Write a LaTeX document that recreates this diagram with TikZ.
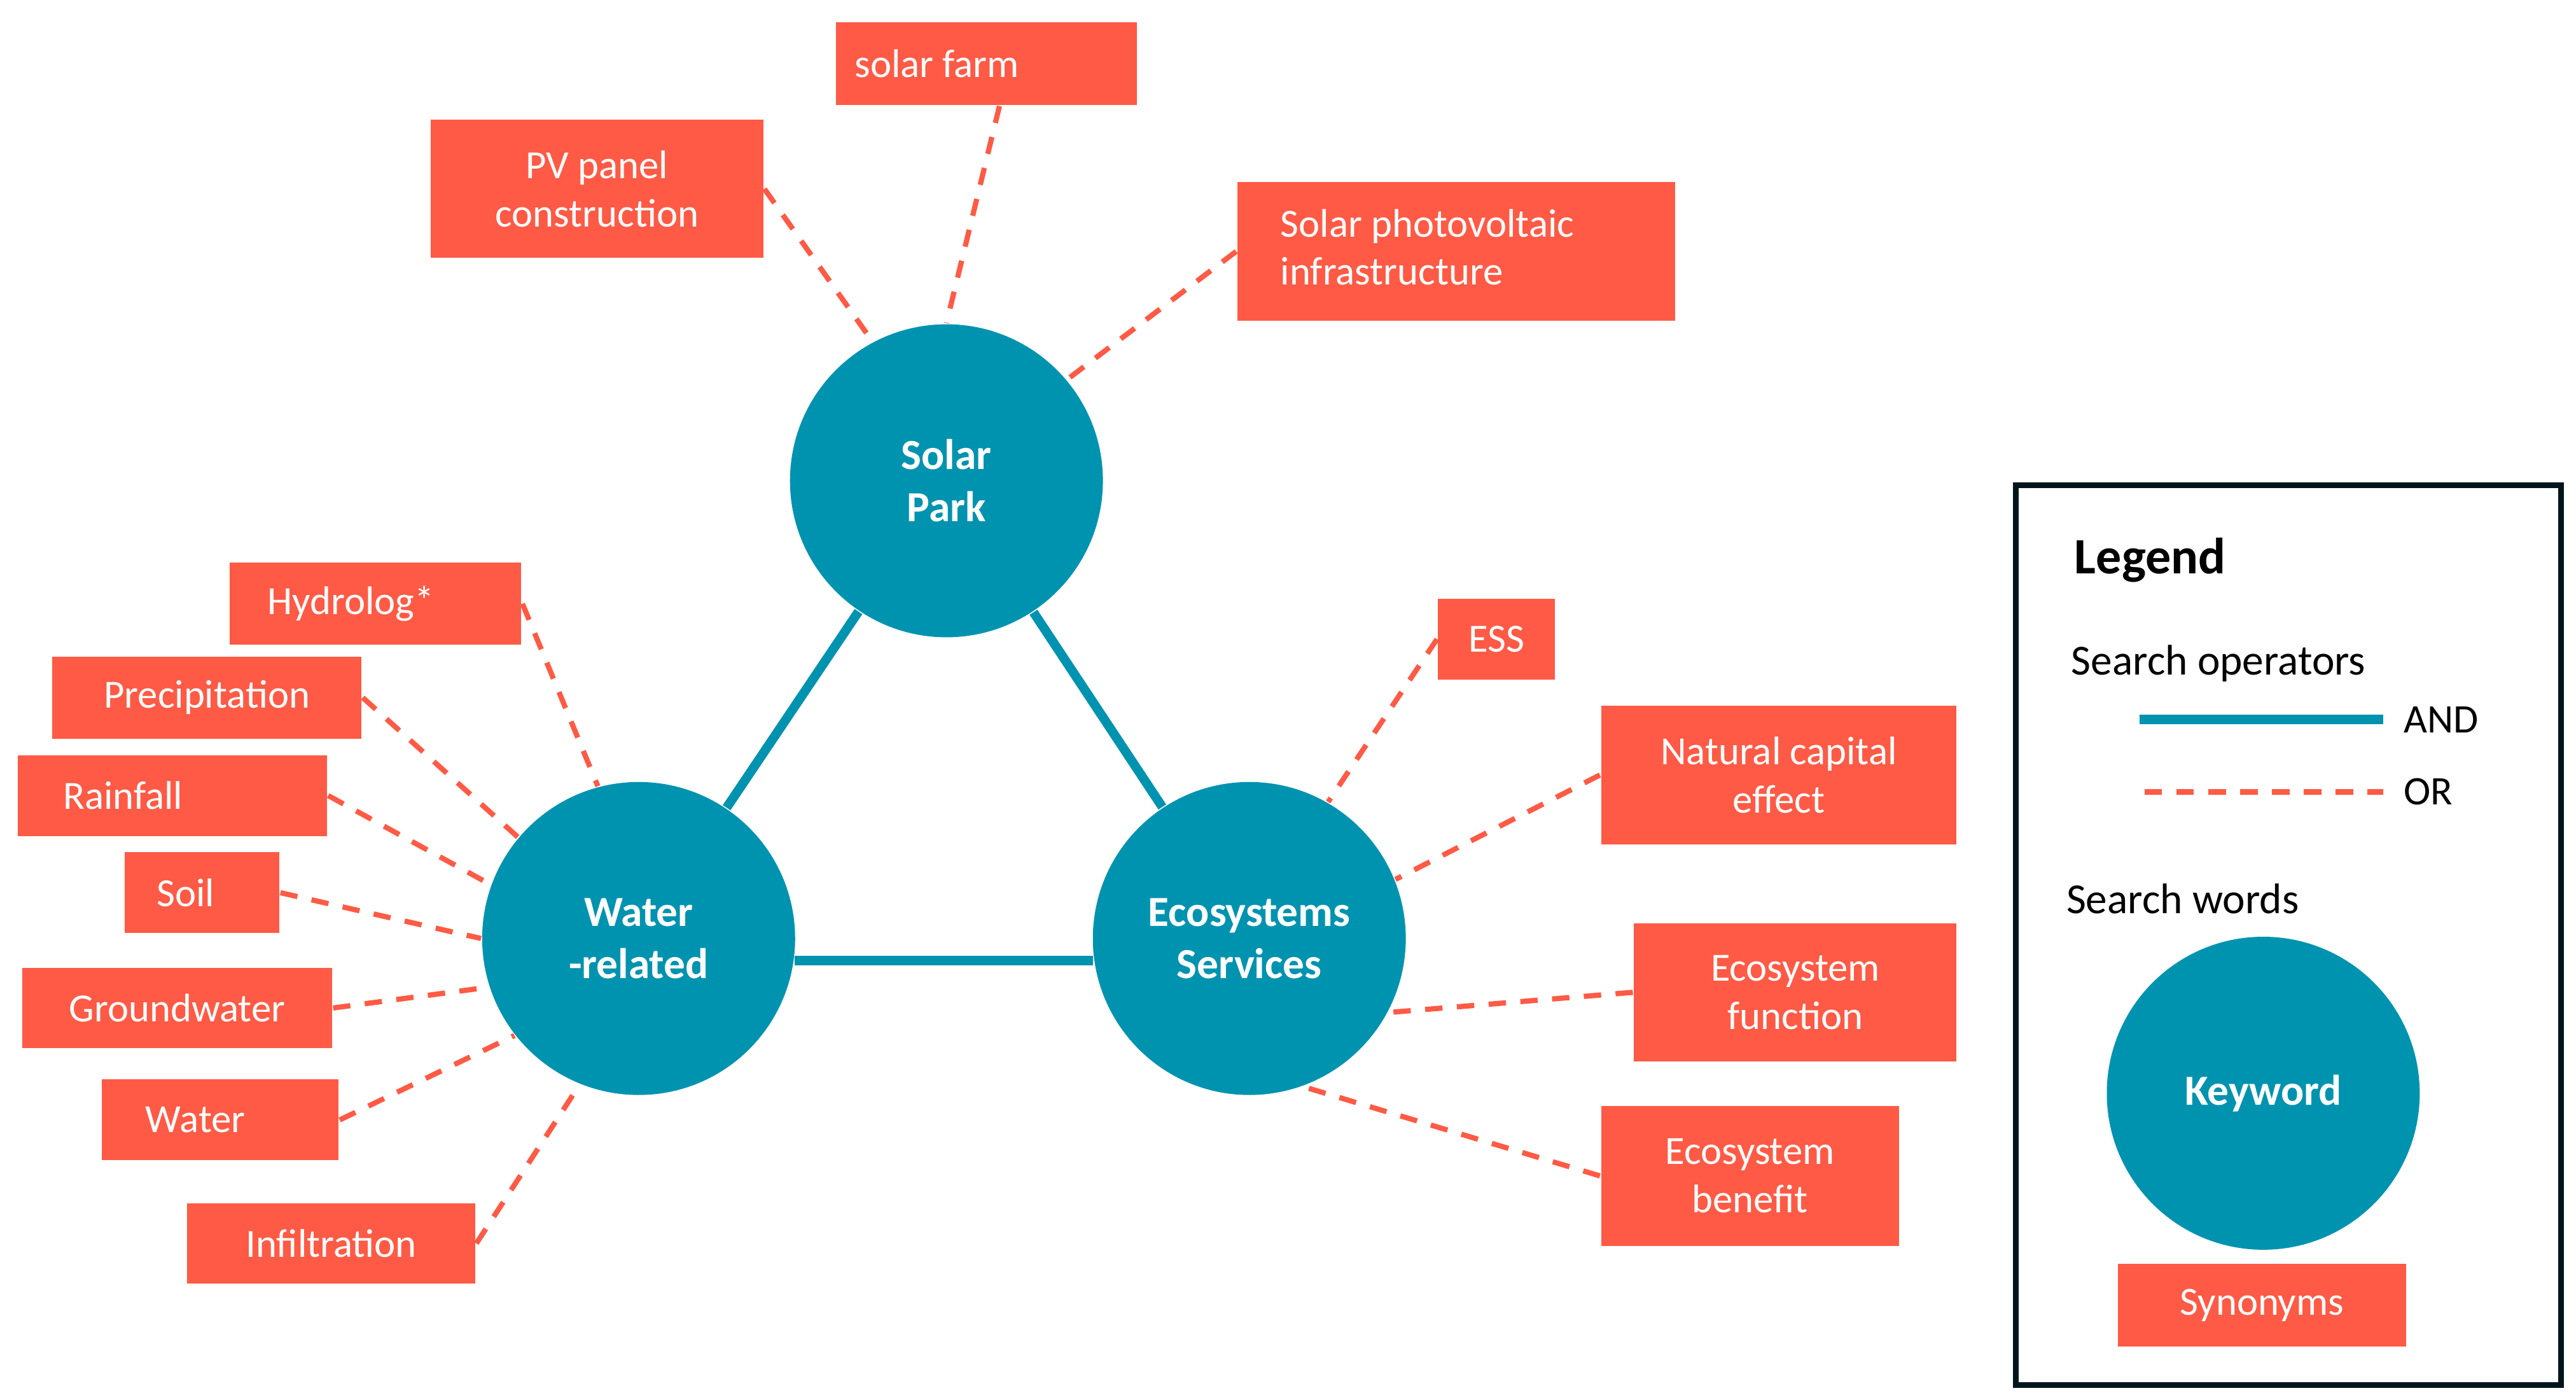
\documentclass[tikz,border=0pt]{standalone}
\usepackage{fontspec}
\setmainfont{Carlito}
\definecolor{teal}{RGB}{0,147,176}
\definecolor{syn}{RGB}{255,90,69}
\begin{document}
\begin{tikzpicture}[x=0.01cm,y=-0.01cm,
  kw/.style={circle,fill=teal,minimum size=1.9cm,inner sep=0pt,text=white,font=\fontsize{7.4}{9}\selectfont\bfseries,align=center},
  box/.style={fill=syn,text=white,font=\fontsize{6.9}{8.3}\selectfont,align=center,anchor=north west,inner sep=0pt},
  orl/.style={syn,dashed,line width=0.9pt,dash pattern=on 3pt off 2.5pt},
  andl/.style={teal,line width=1.6pt}]
\useasboundingbox (0,0) rectangle (1565,850);
\node[kw] (sp) at (575,292) {Solar\\Park};
\node[kw] (wr) at (388,570) {Water\\-related};
\node[kw] (es) at (759,570) {Ecosystems\\Services};
\newcommand\bx[6]{\node[box,minimum width=#4*0.01cm-#2*0.01cm,minimum height=#5*0.01cm-#3*0.01cm] (#1) at (#2,#3) {#6};}
\bx{b1}{507}{13}{690}{63}{solar farm\hspace{0.6cm}}
\bx{b2}{261}{72}{463}{156}{PV panel\\construction}
\bx{b3}{751}{110}{1017}{194}{\begin{tabular}{@{}l@{}}Solar photovoltaic\\infrastructure\end{tabular}\hspace{0.35cm}}
\bx{b4}{139}{341}{316}{391}{Hydrolog*\hspace{0.3cm}}
\bx{b5}{31}{398}{219}{448}{Precipitation}
\bx{b6}{10}{458}{198}{507}{Rainfall\hspace{0.6cm}}
\bx{b7}{75}{517}{169}{566}{Soil\hspace{0.2cm}}
\bx{b8}{13}{587}{201}{636}{Groundwater}
\bx{b9}{61}{655}{205}{704}{Water\hspace{0.3cm}}
\bx{b10}{113}{730}{288}{779}{Infiltration}
\bx{b11}{873}{363}{944}{412}{ESS}
\bx{b12}{972}{428}{1188}{512}{Natural capital\\effect}
\bx{b13}{992}{560}{1188}{644}{Ecosystem\\function}
\bx{b14}{972}{671}{1153}{756}{Ecosystem\\benefit}
% legend
\node[draw=black!85!teal,line width=1pt,minimum width=3.31cm,minimum height=5.46cm,anchor=north west,inner sep=0pt] (lg) at (1223,293) {};
\node[anchor=west,font=\fontsize{8.8}{10}\selectfont\bfseries] (lt) at (1248,340) {Legend};
\node[anchor=west,font=\fontsize{7.4}{9}\selectfont] (so) at (1246,403) {Search operators};
\coordinate (a1) at (1300,437); \coordinate (a2) at (1448,437);
\coordinate (o1) at (1303,481); \coordinate (o2) at (1448,481);
\draw[andl] (a1) -- (a2);
\draw[orl] (o1) -- (o2);
\node[anchor=west,font=\fontsize{7}{8}\selectfont] (and) at (a2) {AND};
\node[anchor=west,font=\fontsize{7}{8}\selectfont] (or) at (o2) {OR};
\node[anchor=west,font=\fontsize{7.4}{9}\selectfont] (sw) at (1243,546) {Search words};
\node[kw] (key) at (1375,664) {Keyword};
\bx{b15}{1286}{767}{1461}{817}{Synonyms}
% AND lines
\draw[andl] (sp) -- (wr);
\draw[andl] (sp) -- (es);
\draw[andl] (wr.-8) -- (es.188);
% OR lines
\draw[orl] (b1.south) ++(8,0) -- (sp.north);
\draw[orl] (b2.east) -- (sp.118);
\draw[orl] (b3.west) -- (sp.40);
\draw[orl] (b4.east) -- (wr.105);
\draw[orl] (b5.east) -- (wr.140);
\draw[orl] (b6.east) -- (wr.160);
\draw[orl] (b7.east) -- (wr.180);
\draw[orl] (b8.east) -- (wr.198);
\draw[orl] (b9.east) -- (wr.218);
\draw[orl] (b10.east) -- (wr.248);
\draw[orl] (b11.west) -- (es.60);
\draw[orl] (b12.west) -- (es.22);
\draw[orl] (b13.west) -- (es.-28);
\draw[orl] (b14.west) -- (es.-70);
\end{tikzpicture}
\end{document}
